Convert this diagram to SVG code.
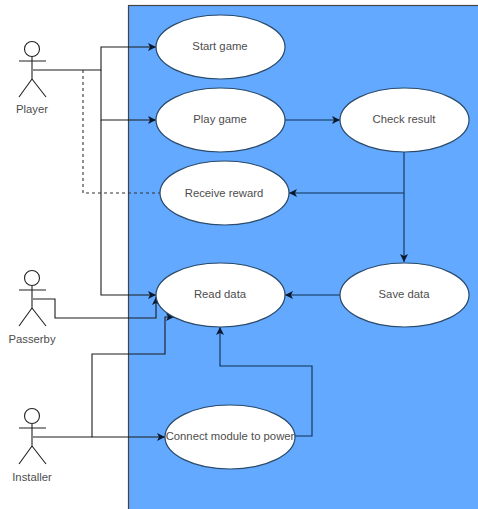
<svg xmlns="http://www.w3.org/2000/svg" width="478" height="509" viewBox="0 0 478 509">
<defs>
<style>
.u{fill:#fff;stroke:#2a4a6a;stroke-width:1.2}
.c{fill:none;stroke:#1c1c1c;stroke-width:1.1}
.b{fill:none;stroke:#10304f;stroke-width:1.1}
.d{stroke-dasharray:3 3;stroke:#333}
.a{fill:none;stroke:#222;stroke-width:1.1}
text{font-family:"Liberation Sans",Arial,sans-serif;font-size:11.300px;fill:#4d4d4d;text-anchor:middle}
</style>
<marker id="m" markerUnits="userSpaceOnUse" markerWidth="9" markerHeight="9" refX="8" refY="4" orient="auto"><path d="M0 0L8 4L0 8L2 4Z" fill="#0a1a2e"/></marker>
</defs>
<rect width="478" height="509" fill="#fff"/>
<rect x="128.500" y="5.500" width="360" height="520" fill="#63a9ff" stroke="#444" stroke-width="1.200"/>
<g id="connectors">
<path class="c" d="M33 70H101V47H156" marker-end="url(#m)"/>
<path class="c" d="M101 70V120H156" marker-end="url(#m)"/>
<path class="c" d="M101 120V295H156" marker-end="url(#m)"/>
<path class="c d" d="M83 70V193H160"/>
<path class="b" d="M285 120H340" marker-end="url(#m)"/>
<path class="b" d="M404 152V262" marker-end="url(#m)"/>
<path class="b" d="M404 193H289" marker-end="url(#m)"/>
<path class="b" d="M340 295H285" marker-end="url(#m)"/>
<path class="c" d="M33 299H55V318H156V297" marker-end="url(#m)"/>
<path class="c" d="M33 437H92V354H165V317H174" marker-end="url(#m)"/>
<path class="c" d="M92 437H165" marker-end="url(#m)"/>
<path class="b" d="M294 436H312V366H220V327" marker-end="url(#m)"/>
</g>
<g id="player"><circle class="a" cx="32" cy="49" r="7.500"/><path class="a" d="M32 57V79M19 61H46M32 79L19 97M32 79L46 97"/><text x="32" y="113">Player</text></g>
<g id="passerby"><circle class="a" cx="32" cy="278" r="7.500"/><path class="a" d="M32 286V308M19 290H46M32 308L19 326M32 308L46 326"/><text x="32" y="343">Passerby</text></g>
<g id="installer"><circle class="a" cx="32" cy="416" r="7.500"/><path class="a" d="M32 424V446M19 428H46M32 446L19 464M32 446L46 464"/><text x="32" y="481">Installer</text></g>
<g id="start-game"><ellipse class="u" cx="220.500" cy="47" rx="64.500" ry="32"/><text x="220" y="50">Start game</text></g>
<g id="play-game"><ellipse class="u" cx="220.500" cy="120" rx="64.500" ry="32"/><text x="220" y="123">Play game</text></g>
<g id="receive-reward"><ellipse class="u" cx="224.500" cy="193" rx="64.500" ry="32"/><text x="224" y="197">Receive reward</text></g>
<g id="check-result"><ellipse class="u" cx="404.500" cy="120" rx="64.500" ry="32"/><text x="404" y="123">Check result</text></g>
<g id="read-data"><ellipse class="u" cx="220.500" cy="295" rx="64.500" ry="32"/><text x="220" y="298">Read data</text></g>
<g id="save-data"><ellipse class="u" cx="404.500" cy="295" rx="64.500" ry="32"/><text x="404" y="298">Save data</text></g>
<g id="connect-module"><ellipse class="u" cx="230" cy="437" rx="65" ry="32"/><text x="230" y="440">Connect module to power</text></g>
</svg>
